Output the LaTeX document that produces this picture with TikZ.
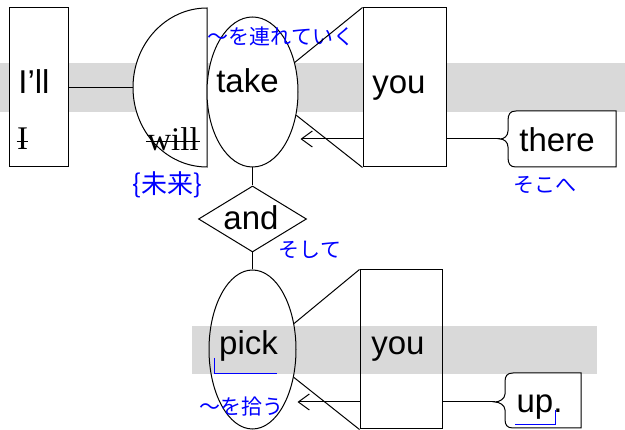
\documentclass[tikz,border=0pt]{standalone}
\usepackage{fontspec}
\setmainfont{Liberation Sans}
\newfontfamily\wordserif{Liberation Serif}
\newfontfamily\jpfont{Noto Sans CJK JP}
\usetikzlibrary{shapes.geometric,arrows.meta}
\begin{document}
\begin{tikzpicture}[x=1pt,y=-1pt,line width=1pt,
  >={Straight Barb[length=11pt,width=16pt]},
  word/.style={font=\fontsize{33}{36}\selectfont,inner sep=0pt,anchor=base},
  old/.style={word,font=\wordserif\fontsize{33}{36}\selectfont},
  jp/.style={font=\jpfont\fontsize{21}{24}\selectfont,text=blue,inner sep=0pt},
  box/.style={draw,fill=white,inner sep=0pt},
  band/.style={fill=black!15}]
\useasboundingbox (0,0) rectangle (625,430);
\fill[band] (0,63) rectangle (625,112);
\fill[band] (192,326) rectangle (597,374);

\node[box,minimum width=59pt,minimum height=159pt] (ill) at (38.5,87.5) {};
\node[word] (illtext) at (34,94) {I’ll};
\node[old] (itext) at (22.5,150) {I};
\draw ([yshift=8pt]itext.base west) -- ([yshift=8pt]itext.base east);

\coordinate (willedge) at (133,87.5);
\draw (ill.east |- willedge) -- (willedge);
\draw[fill=white] (207,8) arc[start angle=90,end angle=270,x radius=74pt,y radius=79.5pt] -- cycle;
\node[old] (will) at (173,151) {will};
\draw ([yshift=9pt,xshift=-1pt]will.base west) -- ([yshift=9pt,xshift=1pt]will.base east);
\node[jp,font=\jpfont\fontsize{26}{28}\selectfont] (willtr) at (167,185) {\{未来\}};

\node[box,ellipse,minimum width=91pt,minimum height=150pt] (take) at (252.5,92) {};
\node[word] (taketext) at (247.5,93) {take};
\node[jp] (taketr) at (281,36) {～を連れていく};

\node[box,minimum width=83pt,minimum height=159pt] (you1) at (404.5,87.5) {};
\node[word] (you1text) at (399,94) {you};
\draw (take.35) -- (you1.north west);
\draw (take.-28) -- (you1.south west);

\coordinate (theretip) at (500,139);
\draw[fill=white] (theretip) .. controls (504,139) and (508,136) .. (508,131) -- (508,121)
  .. controls (508,114) and (510,111) .. (516,111) -- (616,111) -- (616,167) -- (516,167)
  .. controls (510,167) and (508,164) .. (508,157) -- (508,147)
  .. controls (508,142) and (504,139) .. (theretip) -- cycle;
\node[word] (there) at (557,152) {there};
\node[jp] (theretr) at (545,185) {そこへ};
\draw[->] (you1.west |- theretip) -- ([xshift=2pt]take.east |- theretip);
\draw (you1.east |- theretip) -- (theretip);

\node[box,diamond,minimum width=108pt,minimum height=66pt] (and) at (252.5,219) {};
\node[word] (andtext) at (251,230) {and};
\node[jp] (andtr) at (310,250) {そして};
\draw (take.south) -- (and.north);

\node[draw,ellipse,inner sep=0pt,minimum width=87pt,minimum height=159pt] (pick) at (252.5,349.5) {};
\draw (and.south) -- (pick.north);
\node[word] (picktext) at (248.5,355) {pick};
\draw[blue] (214,358) -- (214,374) -- (277,374);
\node[jp] (picktr) at (241,407) {～を拾う};

\node[draw,inner sep=0pt,minimum width=82pt,minimum height=159pt] (you2) at (401,349.5) {};
\node[word] (you2text) at (398,355) {you};
\draw (pick.32) -- (you2.north west);
\draw (pick.-34) -- (you2.south west);

\coordinate (uptip) at (495,402);
\draw[fill=white] (uptip) .. controls (499,402) and (505,399) .. (505,394) -- (505,382)
  .. controls (505,376) and (507,373) .. (513,373) -- (581,373) -- (581,428) -- (513,428)
  .. controls (507,428) and (505,425) .. (505,419) -- (505,410)
  .. controls (505,405) and (499,402) .. (uptip) -- cycle;
\node[word] (up) at (539.5,413) {up.};
\draw[blue] (515,425) -- (555,425) -- (555,410);
\draw[->] (you2.west |- uptip) -- ([xshift=1pt]pick.east |- uptip);
\draw (you2.east |- uptip) -- (uptip);
\end{tikzpicture}
\end{document}
